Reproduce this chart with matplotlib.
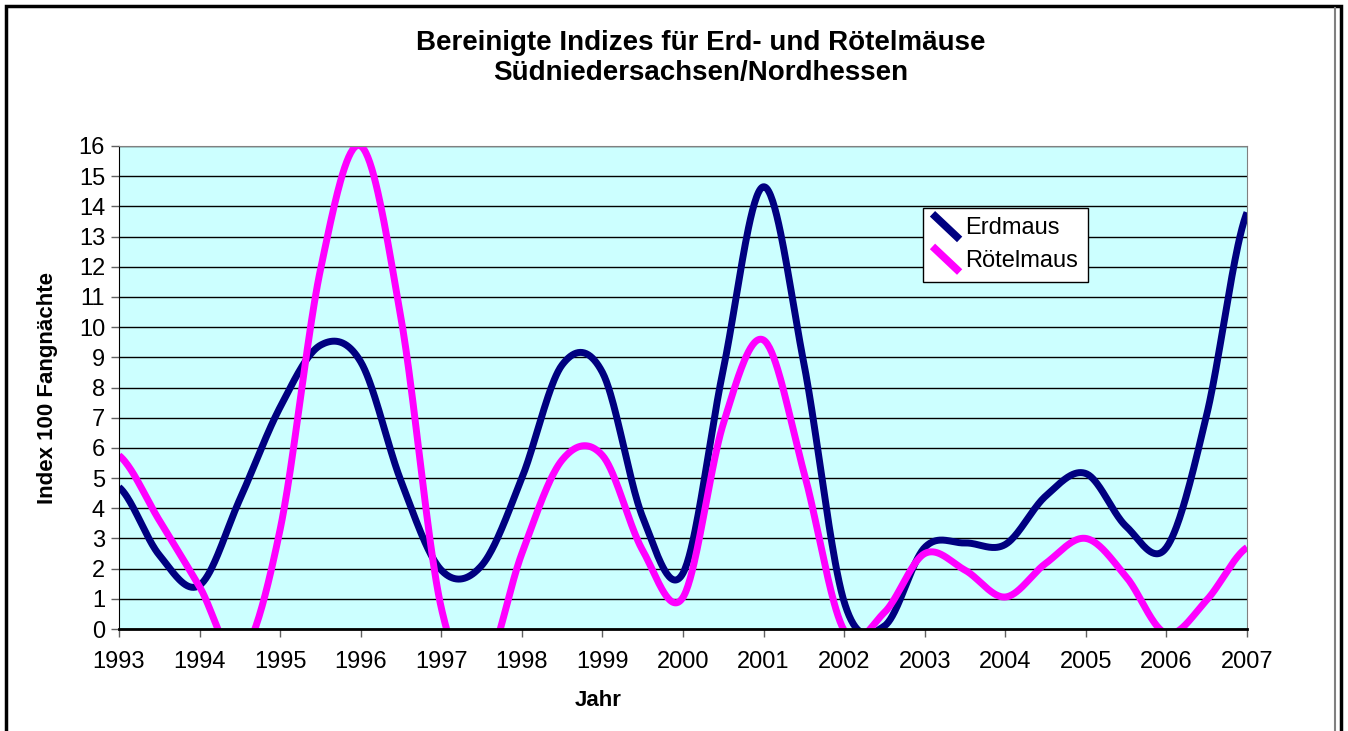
import numpy as np
import matplotlib
matplotlib.use("Agg")
import matplotlib.pyplot as plt
from matplotlib.legend_handler import HandlerLine2D
from matplotlib.lines import Line2D
from matplotlib.patches import Rectangle

plt.rcParams['font.family'] = ['Liberation Sans', 'DejaVu Sans']

# Werte im Halbjahresabstand
zeit = [1993.0, 1993.5, 1994.0, 1994.5, 1995.0, 1995.5, 1996.0, 1996.5,
        1997.0, 1997.5, 1998.0, 1998.5, 1999.0, 1999.5, 2000.0, 2000.5,
        2001.0, 2001.5, 2002.0, 2002.5, 2003.0, 2003.5, 2004.0, 2004.5,
        2005.0, 2005.5, 2006.0, 2006.5, 2007.0]
erdmaus = [4.7, 2.45, 1.45, 4.3, 7.35, 9.4, 8.85, 4.9,
           1.95, 2.1, 5.0, 8.75, 8.5, 3.7, 1.85, 8.6,
           14.65, 8.8, 0.9, 0.1, 2.7, 2.85, 2.8, 4.4,
           5.15, 3.4, 2.7, 7.1, 13.8]
roetelmaus = [5.75, 3.6, 1.4, -0.9, 3.3, 11.9, 16.0, 10.3,
              0.7, -1.5, 2.5, 5.6, 5.75, 2.6, 1.05, 6.8,
              9.57, 5.2, -0.05, 0.55, 2.5, 1.95, 1.06, 2.17,
              3.0, 1.73, -0.15, 0.96, 2.7]
jahre = list(range(1993, 2008))


def glaetten(x, y, n=40):
    # Catmull-Rom Spline, wie die "geglättete Linie" in Excel
    x = np.asarray(x, float)
    y = np.asarray(y, float)
    p = np.concatenate([[y[0]], y, [y[-1]]])
    xs, ys = [], []
    t = np.linspace(0, 1, n, endpoint=False)
    for i in range(len(y) - 1):
        p0, p1, p2, p3 = p[i], p[i + 1], p[i + 2], p[i + 3]
        m1 = (p2 - p0) / 2
        m2 = (p3 - p1) / 2
        h00 = 2 * t**3 - 3 * t**2 + 1
        h10 = t**3 - 2 * t**2 + t
        h01 = -2 * t**3 + 3 * t**2
        h11 = t**3 - t**2
        ys.append(h00 * p1 + h10 * m1 + h01 * p2 + h11 * m2)
        xs.append(x[i] + t * (x[i + 1] - x[i]))
    xs.append([x[-1]])
    ys.append([y[-1]])
    return np.concatenate(xs), np.concatenate(ys)


class DiagonalHandler(HandlerLine2D):
    # Legendensymbol schräg wie in Excel
    def create_artists(self, legend, orig_handle, xdescent, ydescent,
                       width, height, fontsize, trans):
        line = Line2D([0, width], [height * 1.25, -height * 0.3],
                      color=orig_handle.get_color(), linewidth=5.5,
                      solid_capstyle='butt')
        line.set_transform(trans)
        return [line]


fig = plt.figure(figsize=(13.48, 7.31), dpi=100)
ax = fig.add_axes([119 / 1348, 1 - 629 / 731, 1128 / 1348, 483 / 731])
ax.set_facecolor('#CCFFFF')

xe, ye = glaetten(zeit, erdmaus)
xr, yr = glaetten(zeit, roetelmaus)
ax.plot(xe, ye, color='#000080', lw=5, label='Erdmaus', solid_capstyle='butt')
ax.plot(xr, yr, color='#FF00FF', lw=5, label='Rötelmaus', solid_capstyle='butt')

ax.set_xlim(1993, 2007)
ax.set_ylim(0, 16)
ax.set_xticks(jahre)
ax.set_xticklabels([str(j) for j in jahre])
ax.set_yticks(range(0, 17))
ax.yaxis.grid(True, color='black', lw=1)
ax.set_axisbelow(True)
ax.tick_params(axis='both', labelsize=17, length=6, width=1, color='#606060')
ax.tick_params(axis='x', pad=9.5)
ax.tick_params(axis='y', pad=4)

for s in ['top', 'right']:
    ax.spines[s].set_color('#808080')
ax.spines['left'].set_color('black')
ax.spines['bottom'].set_color('black')
ax.spines['bottom'].set_linewidth(2)

leg = ax.legend(loc='upper left', bbox_to_anchor=(0.7128, 0.8716), borderaxespad=0,
                fontsize=17, fancybox=False, framealpha=1, edgecolor='black',
                handlelength=1.15, handletextpad=0.25, borderpad=0.4,
                labelspacing=0.45, handler_map={Line2D: DiagonalHandler()})
leg.get_frame().set_linewidth(1)

fig.text(701 / 1348, 1 - 58 / 731,
         'Bereinigte Indizes für Erd- und Rötelmäuse\nSüdniedersachsen/Nordhessen',
         ha='center', va='center', fontsize=20, fontweight='bold', linespacing=1.2)
fig.text(598 / 1348, 1 - 700 / 731, 'Jahr', ha='center', va='center',
         fontsize=16, fontweight='bold')
fig.text(47 / 1348, 1 - 388 / 731, 'Index 100 Fangnächte', ha='center', va='center',
         rotation=90, fontsize=16, fontweight='bold')

# Rahmen um das Diagramm
fig.patches.append(Rectangle((6 / 1348, -0.01), 1335 / 1348, 1 - 6 / 731 + 0.01,
                             transform=fig.transFigure, fill=False,
                             edgecolor='black', lw=2.5))
fig.lines.append(Line2D([1335 / 1348, 1335 / 1348], [0, 1 - 8 / 731],
                        transform=fig.transFigure, color='#808080', lw=1.5))

fig.savefig('out.png', dpi=100)
